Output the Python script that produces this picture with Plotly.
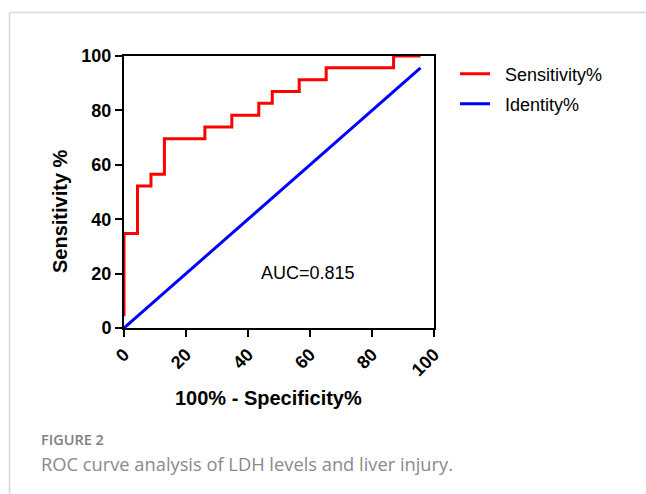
import plotly.graph_objects as go

# ROC points (100% - Specificity%, Sensitivity%)
roc_x = [0, 0, 4.35, 8.70, 13.04, 26.09, 34.78, 43.48, 47.83, 56.52, 65.22, 86.96, 95.65]
roc_y = [4.35, 34.78, 52.17, 56.52, 69.57, 73.91, 78.26, 82.61, 86.96, 91.30, 95.65, 100, 100]
ident_x = [0, 95.65]
ident_y = [0, 95.65]
tick_vals = [0, 20, 40, 60, 80, 100]
tick_text = ["0", "20", "40", "60", "80", "100"]
auc_label = "AUC=0.815"
auc_pos = (59.4, 20.2)

W, H = 646, 494
L, R, T, B = 124, 434, 56, 328
pw, ph = R - L, B - T


def px(x):
    return (x - L) / pw


def py(y):
    return (B - y) / ph


AX = "Arial, Liberation Sans, sans-serif"
NB = "\u00a0\u00a0"

fig = go.Figure()
fig.add_trace(go.Scatter(x=roc_x, y=roc_y, mode="lines", line=dict(color="#ff0000", width=3, shape="hv"),
                         name=NB + "Sensitivity%", legend="legend"))
fig.add_trace(go.Scatter(x=ident_x, y=ident_y, mode="lines", line=dict(color="#0000ff", width=3),
                         name=NB + "Identity%", legend="legend2"))

axis_common = dict(range=[0, 100], showgrid=False, zeroline=False, showline=True, linecolor="black",
                   linewidth=2, mirror=True, ticks="outside", ticklen=7, tickwidth=2, tickcolor="black",
                   tickvals=tick_vals, ticktext=tick_text, layer="below traces")
fig.update_xaxes(**axis_common, tickangle=-45,
                 tickfont=dict(family=AX, size=18, color="black", weight="bold"))
fig.update_yaxes(**axis_common, tickfont=dict(family=AX, size=18, color="black", weight="bold"))

fig.add_annotation(x=auc_pos[0], y=auc_pos[1], xref="x", yref="y", text=auc_label, showarrow=False,
                   xanchor="center", yanchor="middle",
                   font=dict(family=AX, size=18, color="black"))
fig.add_annotation(x=px(268), y=py(398), xref="paper", yref="paper", text="<b>100% - Specificity%</b>",
                   showarrow=False, xanchor="center", yanchor="middle",
                   font=dict(family=AX, size=20, color="black"))
fig.add_annotation(x=px(60), y=py(211), xref="paper", yref="paper", text="<b>Sensitivity %</b>",
                   showarrow=False, textangle=-90, xanchor="center", yanchor="middle",
                   font=dict(family=AX, size=20, color="black"))

CAP = "Open Sans, Lato, sans-serif"
fig.add_annotation(x=px(39), y=py(440), xref="paper", yref="paper", text="FIGURE 2", showarrow=False,
                   xanchor="left", yanchor="middle",
                   font=dict(family=CAP, size=14.5, color="#808080", weight=600))
fig.add_annotation(x=px(39), y=py(463), xref="paper", yref="paper",
                   text="ROC curve analysis of LDH levels and liver injury.", showarrow=False,
                   xanchor="left", yanchor="middle",
                   font=dict(family=CAP, size=18.3, color="#8a8a8a"))

# card border (top and left)
fig.add_shape(type="line", xref="paper", yref="paper", x0=px(9.5), x1=px(W), y0=py(12.5), y1=py(12.5),
              line=dict(color="#d8d8d8", width=1.5))
fig.add_shape(type="line", xref="paper", yref="paper", x0=px(9.5), x1=px(9.5), y0=py(12.5), y1=py(H),
              line=dict(color="#d8d8d8", width=1.5))

leg_common = dict(xanchor="left", yanchor="middle", bgcolor="rgba(0,0,0,0)", itemwidth=30,
                  font=dict(family=AX, size=18, color="black"))
fig.update_layout(
    width=W, height=H, margin=dict(l=L, r=W - R, t=T, b=H - B),
    paper_bgcolor="white", plot_bgcolor="white",
    showlegend=True,
    legend=dict(x=px(455), y=py(74), **leg_common),
    legend2=dict(x=px(455), y=py(104), **leg_common),
)

fig.write_html("out.html", config={"displayModeBar": False},
               post_script="document.body.style.margin='0';")
